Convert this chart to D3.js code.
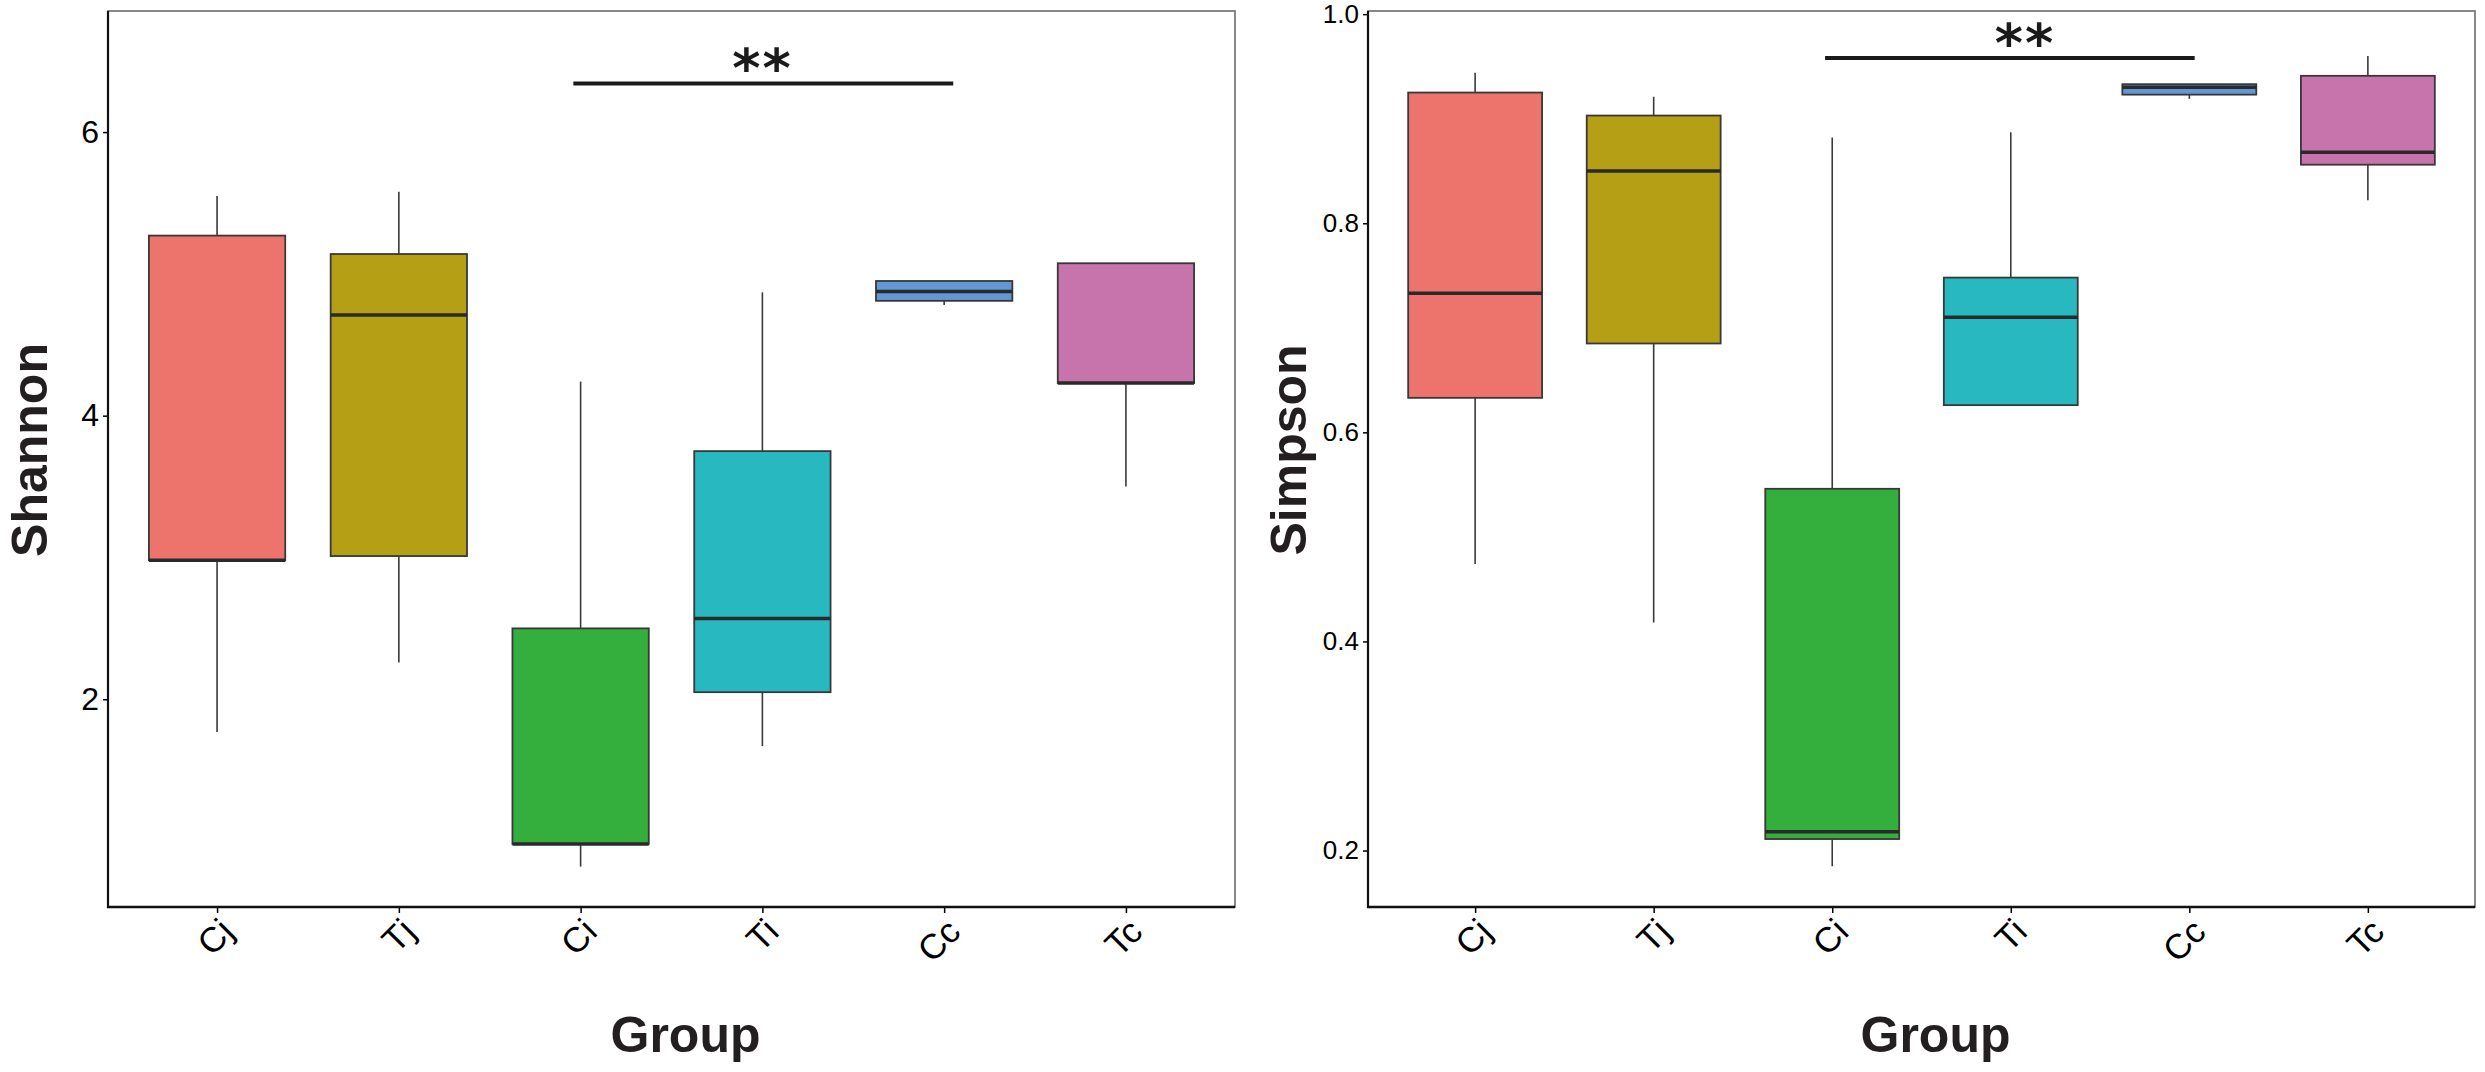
<!DOCTYPE html>
<html>
<head>
<meta charset="utf-8">
<script src="https://cdn.jsdelivr.net/npm/d3@7"></script>
<style>
  body { margin: 0; background: #fff; }
  svg { display: block; font-family: "Liberation Sans", Arial, sans-serif; }
</style>
</head>
<body>
<svg width="2485" height="1072"></svg>
<script>
// groups on the x axis
var groups = ['Cj', 'Tj', 'Ci', 'Ti', 'Cc', 'Tc'];
var colors = ['#ec746c', '#b59f15', '#34ae3c', '#28b8bf', '#6497d5', '#c774ac'];

// Shannon box stats per group
var shannonMin = [1.77, 2.26, 0.82, 1.67, 4.78, 3.50];
var shannonQ1  = [2.98, 3.01, 0.98, 2.05, 4.81, 4.23];
var shannonMed = [2.98, 4.71, 0.98, 2.57, 4.876, 4.23];
var shannonQ3  = [5.27, 5.14, 2.50, 3.75, 4.95, 5.075];
var shannonMax = [5.55, 5.58, 4.24, 4.87, 4.95, 5.075];
var shannonTicks = [2, 4, 6];

// Simpson box stats per group
var simpsonMin = [0.474, 0.418, 0.185, 0.626, 0.919, 0.822];
var simpsonQ1  = [0.633, 0.685, 0.211, 0.626, 0.923, 0.856];
var simpsonMed = [0.733, 0.850, 0.218, 0.710, 0.930, 0.868];
var simpsonQ3  = [0.925, 0.903, 0.546, 0.748, 0.933, 0.941];
var simpsonMax = [0.944, 0.921, 0.882, 0.887, 0.933, 0.960];
var simpsonTicks = [0.2, 0.4, 0.6, 0.8, 1.0];

// significance bar: from / to (group index), height, label
var shannonSig = {from: 1.96, to: 4.05, y: 6.342, label: '**', at: 3.0};
var simpsonSig = {from: 1.96, to: 4.03, y: 0.958, label: '**', at: 3.08};

var svg = d3.select('svg');

function drawPanel(opt) {
  var x = d3.scaleLinear().domain([-0.6, groups.length - 0.4]).range([opt.x0, opt.x1]);
  var y = d3.scaleLinear().domain(opt.domain).range([opt.y1, opt.y0]);
  var bw = 0.75 * (x(1) - x(0));
  var g = svg.append('g');

  var stats = groups.map(function (name, i) {
    return {i: i, min: opt.min[i], q1: opt.q1[i], med: opt.med[i], q3: opt.q3[i], max: opt.max[i]};
  });

  // frame top/right
  g.append('rect')
   .attr('x', opt.x0).attr('y', opt.y0)
   .attr('width', opt.x1 - opt.x0).attr('height', opt.y1 - opt.y0)
   .attr('fill', 'none').attr('stroke', '#6b6b6b').attr('stroke-width', 1.6);

  // whiskers
  g.selectAll('line.wu').data(stats).enter().append('line')
   .attr('x1', function (d) { return x(d.i); }).attr('x2', function (d) { return x(d.i); })
   .attr('y1', function (d) { return y(d.q3); }).attr('y2', function (d) { return y(d.max); })
   .attr('stroke', '#3a3a3a').attr('stroke-width', 1.6);
  g.selectAll('line.wl').data(stats).enter().append('line')
   .attr('x1', function (d) { return x(d.i); }).attr('x2', function (d) { return x(d.i); })
   .attr('y1', function (d) { return y(d.q1); }).attr('y2', function (d) { return y(d.min); })
   .attr('stroke', '#3a3a3a').attr('stroke-width', 1.6);

  // boxes
  g.selectAll('rect.box').data(stats).enter().append('rect')
   .attr('x', function (d) { return x(d.i) - bw / 2; })
   .attr('y', function (d) { return y(d.q3); })
   .attr('width', bw)
   .attr('height', function (d) { return y(d.q1) - y(d.q3); })
   .attr('fill', function (d) { return colors[d.i]; })
   .attr('stroke', '#383838').attr('stroke-width', 1.8);

  // medians
  g.selectAll('line.med').data(stats).enter().append('line')
   .attr('x1', function (d) { return x(d.i) - bw / 2; })
   .attr('x2', function (d) { return x(d.i) + bw / 2; })
   .attr('y1', function (d) { return y(d.med); }).attr('y2', function (d) { return y(d.med); })
   .attr('stroke', '#2a2a2a').attr('stroke-width', 3.5);

  // y axis
  var ya = g.append('g')
   .attr('transform', 'translate(' + opt.x0 + ',0)')
   .call(d3.axisLeft(y).tickValues(opt.ticks).tickSize(5).tickPadding(4).tickFormat(opt.fmt));
  ya.select('.domain').remove();
  ya.selectAll('.tick line').attr('stroke', '#000').attr('stroke-width', 1.5);
  ya.selectAll('.tick text').attr('font-size', opt.tickFont).attr('fill', '#000')
    .attr('font-family', '"Liberation Sans", Arial, sans-serif');

  // x axis
  var xa = g.append('g')
   .attr('transform', 'translate(0,' + opt.y1 + ')')
   .call(d3.axisBottom(x).tickValues(d3.range(groups.length)).tickSize(6)
         .tickFormat(function (i) { return groups[i]; }));
  xa.select('.domain').remove();
  xa.selectAll('.tick line').attr('stroke', '#000').attr('stroke-width', 1.5);
  xa.selectAll('.tick text')
    .attr('font-size', 35).attr('fill', '#000')
    .attr('font-family', '"Liberation Sans", Arial, sans-serif')
    .attr('text-anchor', 'end')
    .attr('x', 0).attr('y', 0).attr('dy', '0.72em')
    .attr('transform', 'translate(0,9) rotate(-45)');

  // axis lines left and bottom
  g.append('line').attr('x1', opt.x0).attr('x2', opt.x0).attr('y1', opt.y0).attr('y2', opt.y1 + 1)
   .attr('stroke', '#111').attr('stroke-width', 2.2);
  g.append('line').attr('x1', opt.x0 - 1).attr('x2', opt.x1).attr('y1', opt.y1).attr('y2', opt.y1)
   .attr('stroke', '#111').attr('stroke-width', 2.6);

  // significance bar
  g.append('line')
   .attr('x1', x(opt.sig.from)).attr('x2', x(opt.sig.to))
   .attr('y1', y(opt.sig.y)).attr('y2', y(opt.sig.y))
   .attr('stroke', '#1a1a1a').attr('stroke-width', 4);
  g.append('text')
   .attr('x', x(opt.sig.at)).attr('y', y(opt.sig.y) - 30)
   .attr('dy', '0.62em')
   .attr('text-anchor', 'middle')
   .attr('font-family', '"DejaVu Sans", sans-serif')
   .attr('font-weight', 'bold')
   .attr('font-size', 54).attr('fill', '#1a1a1a')
   .attr('letter-spacing', 2)
   .text(opt.sig.label);

  // titles
  g.append('text')
   .attr('transform', 'translate(' + opt.yTitleX + ',' + 450 + ') rotate(-90)')
   .attr('text-anchor', 'middle')
   .attr('font-size', 50).attr('font-weight', 'bold').attr('fill', '#231f20')
   .text(opt.title);
  g.append('text')
   .attr('x', (opt.x0 + opt.x1) / 2 + 14).attr('y', 1052)
   .attr('text-anchor', 'middle')
   .attr('font-size', 50).attr('font-weight', 'bold').attr('fill', '#231f20')
   .text('Group');
}

drawPanel({
  x0: 108, x1: 1235, y0: 11, y1: 907,
  domain: [0.535, 6.854],
  min: shannonMin, q1: shannonQ1, med: shannonMed, q3: shannonQ3, max: shannonMax,
  ticks: shannonTicks, fmt: d3.format('d'), tickFont: 32,
  sig: shannonSig, title: 'Shannon', yTitleX: 47
});

drawPanel({
  x0: 1368, x1: 2475, y0: 11, y1: 907,
  domain: [0.146, 1.003],
  min: simpsonMin, q1: simpsonQ1, med: simpsonMed, q3: simpsonQ3, max: simpsonMax,
  ticks: simpsonTicks, fmt: d3.format('.1f'), tickFont: 26,
  sig: simpsonSig, title: 'Simpson', yTitleX: 1306
});
</script>
</body>
</html>
